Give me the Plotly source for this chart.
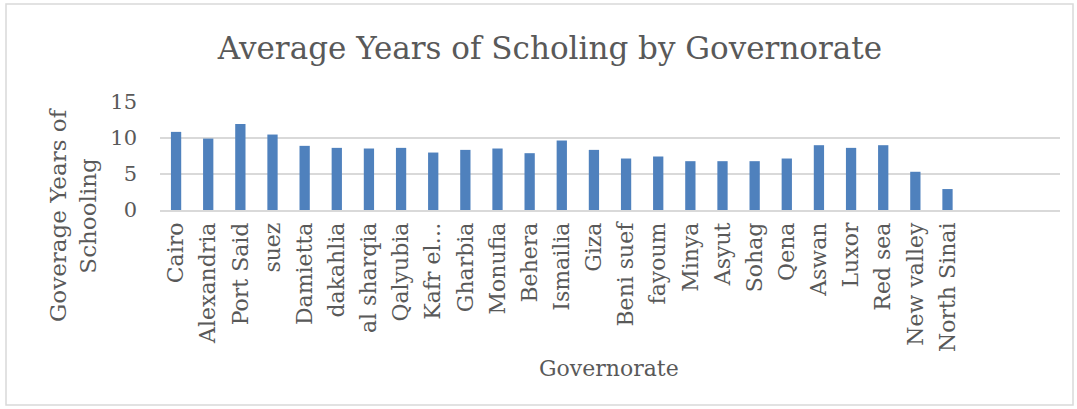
import plotly.graph_objects as go

# Average years of schooling per governorate
governorates = [
    "Cairo", "Alexandria", "Port Said", "suez", "Damietta", "dakahlia",
    "al sharqia", "Qalyubia", "Kafr el…", "Gharbia", "Monufia", "Behera",
    "Ismailia", "Giza", "Beni suef", "fayoum", "Minya", "Asyut", "Sohag",
    "Qena", "Aswan", "Luxor", "Red sea", "New valley", "North Sinai",
]
years = [
    10.85, 9.92, 11.95, 10.48, 8.91, 8.63,
    8.54, 8.63, 7.98, 8.35, 8.54, 7.89,
    9.65, 8.35, 7.15, 7.43, 6.78, 6.78, 6.78,
    7.15, 9.0, 8.63, 9.0, 5.31, 2.91,
]
y_ticks = [0, 5, 10, 15]

FONT = "DejaVu Serif"
GREY = "#595959"

# plot area: x 160..1060 px, y 102..210 px
PW, PH = 900, 108


def px_x(x):
    return (x - 160) / PW


def px_y(y):
    return (210 - y) / PH


fig = go.Figure(
    go.Bar(
        x=governorates,
        y=years,
        marker=dict(color="#4F81BD", line=dict(width=0)),
        width=0.32,
    )
)

fig.update_layout(
    width=1077,
    height=409,
    margin=dict(l=160, r=17, t=102, b=199),
    paper_bgcolor="white",
    plot_bgcolor="white",
    showlegend=False,
    font=dict(family=FONT, color=GREY, size=20),
    title=dict(
        text="Average Years of Scholing by Governorate",
        x=550 / 1077, xanchor="center", xref="container",
        y=1 - 48 / 409, yanchor="middle", yref="container",
        font=dict(family=FONT, size=31, color=GREY),
    ),
    shapes=[
        dict(type="rect", xref="paper", yref="paper",
             x0=px_x(6), x1=px_x(1073), y0=px_y(405), y1=px_y(4),
             line=dict(color="#D9D9D9", width=1.5), fillcolor="rgba(0,0,0,0)",
             layer="below"),
    ],
    annotations=[
        dict(text="Goverage Years of<br>Schooling", xref="paper", yref="paper",
             x=px_x(73), y=px_y(215), xanchor="center", yanchor="middle",
             textangle=-90, showarrow=False,
             font=dict(family=FONT, size=23, color=GREY)),
        dict(text="Governorate", xref="paper", yref="paper",
             x=px_x(609), y=px_y(368), xanchor="center", yanchor="middle",
             showarrow=False, font=dict(family=FONT, size=22, color=GREY)),
    ],
)

fig.update_xaxes(
    type="category",
    range=[-0.5, 27.5],
    tickangle=-90,
    tickfont=dict(family=FONT, size=22, color=GREY),
    showgrid=False,
    showline=True,
    linecolor="#D9D9D9",
    linewidth=1.5,
    ticks="",
    ticklabelstandoff=2,
)

fig.update_yaxes(
    range=[0, 15],
    tickvals=y_ticks,
    tickfont=dict(family=FONT, size=21, color=GREY),
    showgrid=True,
    gridcolor="#D9D9D9",
    gridwidth=1.5,
    zeroline=False,
    showline=False,
    ticks="",
    ticklabelstandoff=22,
)

fig.write_html("out.html")
